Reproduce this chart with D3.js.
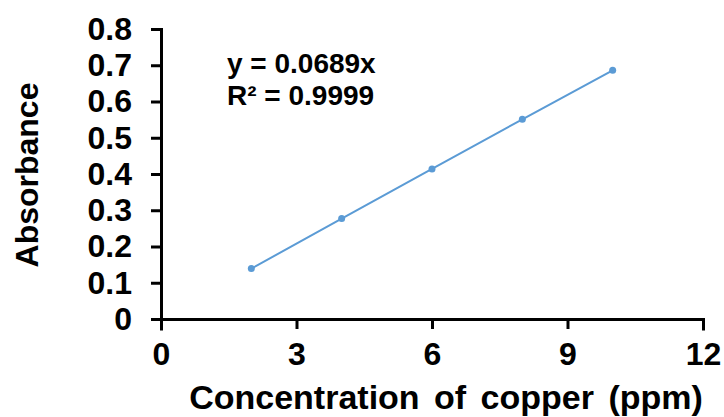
<!DOCTYPE html>
<html>
<head>
<meta charset="utf-8">
<script src="https://cdn.jsdelivr.net/npm/d3@7"></script>
<style>
  body { margin: 0; background: #fff; }
  svg text { font-family: Arial, "Liberation Sans", sans-serif; font-weight: bold; fill: #000; }
  .axis .domain, .axis .tick line { stroke: #000 !important; stroke-width: 3px !important; }
</style>
</head>
<body>
<div id="grafica"></div>
<script>
// datos
const concentracion = [2, 4, 6, 8, 10];
const absorbancia = [0.139, 0.277, 0.414, 0.551, 0.686];
const xTicks = [0, 3, 6, 9, 12];
const yTicks = [0, 0.1, 0.2, 0.3, 0.4, 0.5, 0.6, 0.7, 0.8];
const ecuacion = ["y = 0.0689x", "R² = 0.9999"];

const width = 724;
const height = 417;

const xScale = d3.scaleLinear().domain([0, 12]).range([161, 703]);
const yScale = d3.scaleLinear().domain([0, 0.8]).range([319, 29]);

const svg = d3.select("#grafica").append("svg")
  .attr("width", width)
  .attr("height", height);

// ejes
const xAxis = d3.axisBottom(xScale).tickValues(xTicks).tickSize(10).tickPadding(13)
  .tickFormat(d3.format("d")).tickSizeOuter(10);
const yAxis = d3.axisLeft(yScale).tickValues(yTicks).tickSize(10).tickPadding(19)
  .tickFormat(d => d === 0 ? "0" : d3.format(".1f")(d)).tickSizeOuter(0);

function estiloEje(g) {
  g.select(".domain").attr("stroke-linecap", "square");
  g.selectAll("text").attr("font-size", 32).attr("fill", "#000");
}

svg.append("g")
  .attr("class", "x axis")
  .attr("transform", `translate(0, ${yScale(0)})`)
  .call(xAxis)
  .call(estiloEje);

svg.append("g")
  .attr("class", "y axis")
  .attr("transform", `translate(${xScale(0)}, 0)`)
  .call(yAxis)
  .call(estiloEje);

// titulos de ejes
svg.append("text")
  .attr("x", 446)
  .attr("y", 409)
  .attr("text-anchor", "middle")
  .attr("font-size", 34)
  .attr("word-spacing", 5)
  .text("Concentration of copper (ppm)");

svg.append("text")
  .attr("transform", `translate(38, 175) rotate(-90)`)
  .attr("text-anchor", "middle")
  .attr("font-size", 32)
  .text("Absorbance");

// linea y puntos
const line = d3.line()
  .x((d, i) => xScale(concentracion[i]))
  .y(d => yScale(d));

svg.append("path")
  .attr("d", line(absorbancia))
  .attr("fill", "none")
  .attr("stroke", "#5B9BD5")
  .attr("stroke-width", 2);

svg.append("g")
  .selectAll("circle")
  .data(absorbancia)
  .enter()
  .append("circle")
  .attr("cx", (d, i) => xScale(concentracion[i]))
  .attr("cy", d => yScale(d))
  .attr("r", 3.5)
  .attr("fill", "#5B9BD5");

// ecuacion de la recta
svg.append("g")
  .selectAll("text")
  .data(ecuacion)
  .enter()
  .append("text")
  .attr("x", 227)
  .attr("y", (d, i) => 73 + i * 32)
  .attr("font-size", 28)
  .text(d => d);
</script>
</body>
</html>
